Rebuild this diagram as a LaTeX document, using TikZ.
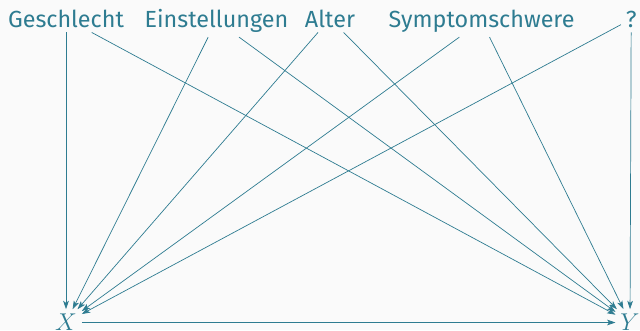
\documentclass[tikz,border=0pt]{standalone}
\usepackage{fontspec}
\setmainfont{Fira Sans}
\usetikzlibrary{arrows.meta}
\definecolor{mteal}{HTML}{2E7C91}
\definecolor{mbg}{HTML}{FAFAFA}
\begin{document}
\begin{tikzpicture}[
        var/.style={anchor=base, text=mteal, font=\fontsize{16.6}{19}\selectfont},
        outcome/.style={anchor=base, text=mteal, font=\fontsize{19}{22}\selectfont},
        arr/.style={draw=mteal, line width=0.5pt, -{Stealth[length=6pt, width=4pt, inset=1.5pt]}},
        ]
        \fill[mbg] (0,0) rectangle (16,8.25);
        \useasboundingbox (0,0) rectangle (16,8.25);
        \node[var] (sex) at (1.65,7.57) {Geschlecht};
        \node[var] (att) at (5.41,7.57) {Einstellungen};
        \node[var] (age) at (8.25,7.57) {Alter};
        \node[var] (sev) at (12.04,7.57) {Symptomschwere};
        \node[var] (unk) at (15.78,7.57) {?};
        \node[outcome] (X) at (1.65,-0.02) {$X$};
        \node[outcome] (Y) at (15.75,-0.02) {$Y$};
        \draw[arr] (sex) -- (X);
        \draw[arr] (sex) -- (Y);
        \draw[arr] (att) -- (X);
        \draw[arr] (att) -- (Y);
        \draw[arr] (age) -- (X);
        \draw[arr] (age) -- (Y);
        \draw[arr] (sev) -- (X);
        \draw[arr] (sev) -- (Y);
        \draw[arr] (unk) -- (X);
        \draw[arr] (unk) -- (Y);
        \draw[arr] (X) -- (Y);
\end{tikzpicture}
\end{document}
